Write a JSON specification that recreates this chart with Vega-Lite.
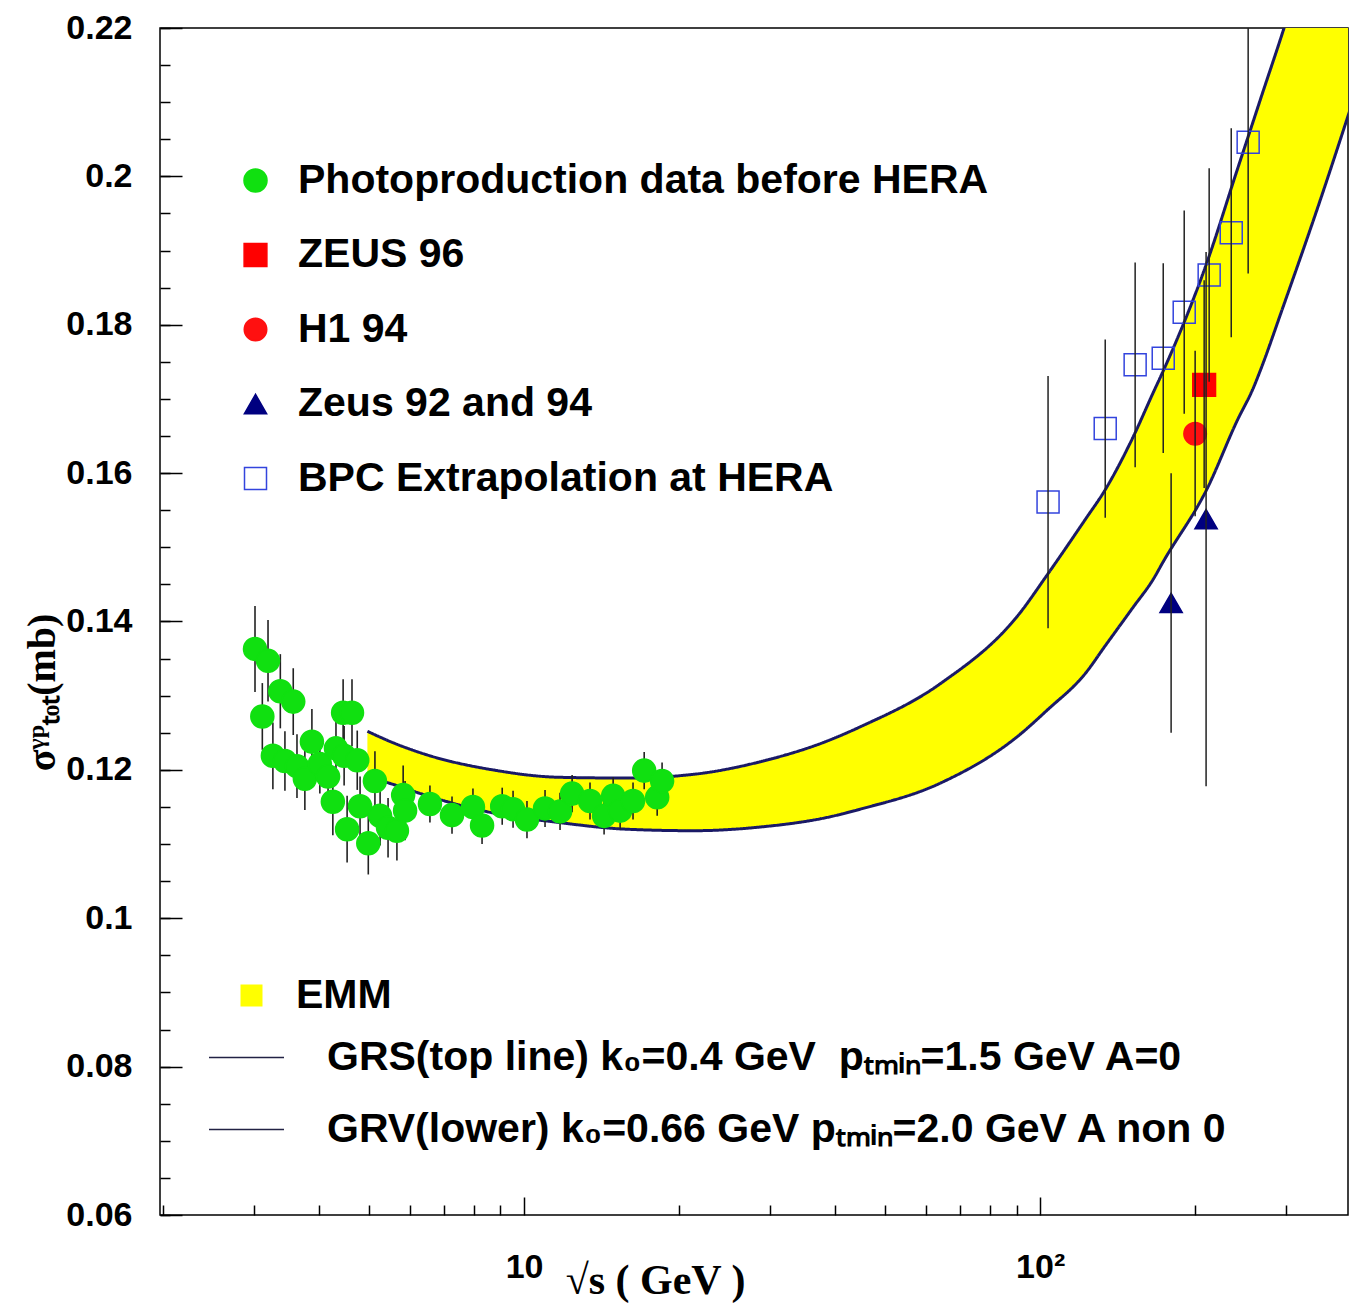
{
  "$schema": "https://vega.github.io/schema/vega-lite/v6.json",
  "width": 1188,
  "height": 1187,
  "autosize": {"type": "none"},
  "padding": {"left": 160, "top": 28, "right": 10, "bottom": 94},
  "background": "white",
  "config": {"view": {"stroke": "#000", "strokeWidth": 1.5}},
  "datasets": {
    "band": [
      {"x": 4.97, "top": 0.1252, "low": 0.1191, "model": "EMM"},
      {"x": 5.6, "top": 0.1236, "low": 0.1180, "model": "EMM"},
      {"x": 6.5, "top": 0.1220, "low": 0.1165, "model": "EMM"},
      {"x": 8.7, "top": 0.1200, "low": 0.1142, "model": "EMM"},
      {"x": 11.7, "top": 0.1190, "low": 0.1129, "model": "EMM"},
      {"x": 15.8, "top": 0.1189, "low": 0.1120, "model": "EMM"},
      {"x": 21.3, "top": 0.1194, "low": 0.1118, "model": "EMM"},
      {"x": 28.7, "top": 0.1211, "low": 0.1123, "model": "EMM"},
      {"x": 38.7, "top": 0.1239, "low": 0.1136, "model": "EMM"},
      {"x": 44.8, "top": 0.1258, "low": 0.1147, "model": "EMM"},
      {"x": 64, "top": 0.1316, "low": 0.1182, "model": "EMM"},
      {"x": 91.5, "top": 0.1412, "low": 0.1248, "model": "EMM"},
      {"x": 103, "top": 0.1462, "low": 0.1280, "model": "EMM"},
      {"x": 123, "top": 0.1540, "low": 0.1332, "model": "EMM"},
      {"x": 133, "top": 0.1575, "low": 0.1365, "model": "EMM"},
      {"x": 151, "top": 0.1647, "low": 0.1418, "model": "EMM"},
      {"x": 166, "top": 0.1710, "low": 0.1458, "model": "EMM"},
      {"x": 173, "top": 0.1737, "low": 0.1480, "model": "EMM"},
      {"x": 211, "top": 0.1886, "low": 0.1580, "model": "EMM"},
      {"x": 241, "top": 0.2009, "low": 0.1671, "model": "EMM"},
      {"x": 259, "top": 0.2075, "low": 0.1715, "model": "EMM"},
      {"x": 267, "top": 0.2103, "low": 0.1738, "model": "EMM"},
      {"x": 296, "top": 0.2197, "low": 0.1825, "model": "EMM"},
      {"x": 349, "top": 0.2360, "low": 0.1968, "model": "EMM"},
      {"x": 400, "top": 0.2500, "low": 0.2093, "model": "EMM"}
    ],
    "pts": [
      {"series": "Photoproduction data before HERA", "x": 3.01, "y": 0.1363, "lo": 0.1305, "hi": 0.1421},
      {"series": "Photoproduction data before HERA", "x": 3.19, "y": 0.1347, "lo": 0.1292, "hi": 0.1402},
      {"series": "Photoproduction data before HERA", "x": 3.11, "y": 0.1272, "lo": 0.1227, "hi": 0.1317},
      {"series": "Photoproduction data before HERA", "x": 3.37, "y": 0.1306, "lo": 0.1256, "hi": 0.1356},
      {"series": "Photoproduction data before HERA", "x": 3.57, "y": 0.1292, "lo": 0.1247, "hi": 0.1337},
      {"series": "Photoproduction data before HERA", "x": 3.26, "y": 0.1219, "lo": 0.1174, "hi": 0.1264},
      {"series": "Photoproduction data before HERA", "x": 3.44, "y": 0.1212, "lo": 0.1172, "hi": 0.1252},
      {"series": "Photoproduction data before HERA", "x": 3.63, "y": 0.1205, "lo": 0.1162, "hi": 0.1248},
      {"series": "Photoproduction data before HERA", "x": 3.76, "y": 0.1188, "lo": 0.1146, "hi": 0.1230},
      {"series": "Photoproduction data before HERA", "x": 3.88, "y": 0.1238, "lo": 0.1194, "hi": 0.1282},
      {"series": "Photoproduction data before HERA", "x": 4.02, "y": 0.1208, "lo": 0.1168, "hi": 0.1248},
      {"series": "Photoproduction data before HERA", "x": 4.17, "y": 0.1191, "lo": 0.1151, "hi": 0.1231},
      {"series": "Photoproduction data before HERA", "x": 4.26, "y": 0.1157, "lo": 0.1112, "hi": 0.1202},
      {"series": "Photoproduction data before HERA", "x": 4.32, "y": 0.1229, "lo": 0.1189, "hi": 0.1269},
      {"series": "Photoproduction data before HERA", "x": 4.48, "y": 0.1219, "lo": 0.1179, "hi": 0.1259},
      {"series": "Photoproduction data before HERA", "x": 4.46, "y": 0.1277, "lo": 0.1232, "hi": 0.1322},
      {"series": "Photoproduction data before HERA", "x": 4.64, "y": 0.1277, "lo": 0.1232, "hi": 0.1322},
      {"series": "Photoproduction data before HERA", "x": 4.54, "y": 0.1120, "lo": 0.1075, "hi": 0.1165},
      {"series": "Photoproduction data before HERA", "x": 4.75, "y": 0.1213, "lo": 0.1173, "hi": 0.1253},
      {"series": "Photoproduction data before HERA", "x": 4.81, "y": 0.1151, "lo": 0.1111, "hi": 0.1191},
      {"series": "Photoproduction data before HERA", "x": 4.99, "y": 0.1101, "lo": 0.1059, "hi": 0.1143},
      {"series": "Photoproduction data before HERA", "x": 5.14, "y": 0.1185, "lo": 0.1145, "hi": 0.1225},
      {"series": "Photoproduction data before HERA", "x": 5.26, "y": 0.1138, "lo": 0.1098, "hi": 0.1178},
      {"series": "Photoproduction data before HERA", "x": 5.45, "y": 0.1122, "lo": 0.1082, "hi": 0.1162},
      {"series": "Photoproduction data before HERA", "x": 5.67, "y": 0.1118, "lo": 0.1078, "hi": 0.1158},
      {"series": "Photoproduction data before HERA", "x": 5.83, "y": 0.1166, "lo": 0.1126, "hi": 0.1206},
      {"series": "Photoproduction data before HERA", "x": 5.88, "y": 0.1145, "lo": 0.1105, "hi": 0.1185},
      {"series": "Photoproduction data before HERA", "x": 6.57, "y": 0.1154, "lo": 0.1129, "hi": 0.1179},
      {"series": "Photoproduction data before HERA", "x": 7.25, "y": 0.1139, "lo": 0.1114, "hi": 0.1164},
      {"series": "Photoproduction data before HERA", "x": 7.96, "y": 0.1150, "lo": 0.1125, "hi": 0.1175},
      {"series": "Photoproduction data before HERA", "x": 8.29, "y": 0.1125, "lo": 0.1100, "hi": 0.1150},
      {"series": "Photoproduction data before HERA", "x": 9.07, "y": 0.1151, "lo": 0.1126, "hi": 0.1176},
      {"series": "Photoproduction data before HERA", "x": 9.52, "y": 0.1147, "lo": 0.1122, "hi": 0.1172},
      {"series": "Photoproduction data before HERA", "x": 10.13, "y": 0.1133, "lo": 0.1108, "hi": 0.1158},
      {"series": "Photoproduction data before HERA", "x": 10.98, "y": 0.1148, "lo": 0.1123, "hi": 0.1173},
      {"series": "Photoproduction data before HERA", "x": 11.74, "y": 0.1144, "lo": 0.1119, "hi": 0.1169},
      {"series": "Photoproduction data before HERA", "x": 12.39, "y": 0.1168, "lo": 0.1143, "hi": 0.1193},
      {"series": "Photoproduction data before HERA", "x": 13.42, "y": 0.1158, "lo": 0.1133, "hi": 0.1183},
      {"series": "Photoproduction data before HERA", "x": 14.29, "y": 0.1138, "lo": 0.1113, "hi": 0.1163},
      {"series": "Photoproduction data before HERA", "x": 14.88, "y": 0.1165, "lo": 0.1140, "hi": 0.1190},
      {"series": "Photoproduction data before HERA", "x": 15.35, "y": 0.1145, "lo": 0.1120, "hi": 0.1170},
      {"series": "Photoproduction data before HERA", "x": 16.26, "y": 0.1158, "lo": 0.1133, "hi": 0.1183},
      {"series": "Photoproduction data before HERA", "x": 17.09, "y": 0.1199, "lo": 0.1174, "hi": 0.1224},
      {"series": "Photoproduction data before HERA", "x": 18.11, "y": 0.1163, "lo": 0.1138, "hi": 0.1188},
      {"series": "Photoproduction data before HERA", "x": 18.51, "y": 0.1185, "lo": 0.1160, "hi": 0.1210},
      {"series": "ZEUS 96", "x": 207.9, "y": 0.1719, "lo": 0.1580, "hi": 0.1860},
      {"series": "H1 94", "x": 199.7, "y": 0.1653, "lo": 0.1542, "hi": 0.1765},
      {"series": "Zeus 92 and 94", "x": 179.4, "y": 0.1425, "lo": 0.1250, "hi": 0.1600},
      {"series": "Zeus 92 and 94", "x": 209.7, "y": 0.1538, "lo": 0.1178, "hi": 0.1898},
      {"series": "BPC Extrapolation at HERA", "x": 103.6, "y": 0.1561, "lo": 0.1391, "hi": 0.1731},
      {"series": "BPC Extrapolation at HERA", "x": 133.7, "y": 0.1660, "lo": 0.1540, "hi": 0.1780},
      {"series": "BPC Extrapolation at HERA", "x": 152.8, "y": 0.1746, "lo": 0.1608, "hi": 0.1884},
      {"series": "BPC Extrapolation at HERA", "x": 173.2, "y": 0.1755, "lo": 0.1627, "hi": 0.1883},
      {"series": "BPC Extrapolation at HERA", "x": 190.2, "y": 0.1817, "lo": 0.1680, "hi": 0.1954},
      {"series": "BPC Extrapolation at HERA", "x": 212.6, "y": 0.1867, "lo": 0.1723, "hi": 0.2011},
      {"series": "BPC Extrapolation at HERA", "x": 234.6, "y": 0.1924, "lo": 0.1783, "hi": 0.2065},
      {"series": "BPC Extrapolation at HERA", "x": 253.0, "y": 0.2046, "lo": 0.1869, "hi": 0.2223}
    ]
  },
  "resolve": {"axis": {"x": "independent", "y": "independent"}},
  "layer": [
    {
      "data": {"name": "band"},
      "mark": {"type": "area", "clip": true, "opacity": 1, "interpolate": "monotone"},
      "encoding": {
        "x": {"field": "x", "type": "quantitative", "scale": {"type": "log", "domain": [1.97, 395], "nice": false},
          "axis": {"orient": "bottom", "values": [2, 3, 4, 5, 6, 7, 8, 9, 20, 30, 40, 50, 60, 70, 80, 90, 200, 300], "labels": false, "tickSize": -10, "tickWidth": 1.5, "tickColor": "#000", "domain": false, "grid": false, "title": null}},
        "y": {"field": "top", "type": "quantitative", "scale": {"domain": [0.06, 0.22], "nice": false, "zero": false},
          "axis": {"orient": "left", "values": [0.06, 0.065, 0.07, 0.075, 0.08, 0.085, 0.09, 0.095, 0.1, 0.105, 0.11, 0.115, 0.12, 0.125, 0.13, 0.135, 0.14, 0.145, 0.15, 0.155, 0.16, 0.165, 0.17, 0.175, 0.18, 0.185, 0.19, 0.195, 0.2, 0.205, 0.21, 0.215, 0.22], "labels": false, "tickSize": -10, "tickWidth": 1.5, "tickColor": "#000", "domain": false, "grid": false, "title": null}},
        "y2": {"field": "low"},
        "color": {"field": "model", "type": "nominal",
          "scale": {"domain": ["EMM"], "range": ["#ffff00"]},
          "legend": {"orient": "none", "legendX": 71, "legendY": 947, "title": null, "padding": 0,
            "labelFont": "Liberation Sans", "labelFontWeight": "bold", "labelFontSize": 41, "labelColor": "#000", "labelLimit": 0,
            "labelOffset": 24, "symbolType": "square", "symbolSize": 484, "symbolOpacity": 1, "symbolStrokeWidth": 0}}
      }
    },
    {
      "data": {"name": "band"},
      "transform": [{"fold": ["top", "low"], "as": ["curve", "val"]}],
      "mark": {"type": "line", "clip": true, "stroke": "#1a1a66", "strokeWidth": 3, "interpolate": "monotone"},
      "encoding": {
        "x": {"field": "x", "type": "quantitative", "scale": {"type": "log", "domain": [1.97, 395], "nice": false},
          "axis": {"orient": "bottom", "values": [10, 100], "tickSize": -18, "tickWidth": 1.5, "tickColor": "#000", "domain": false, "grid": false,
            "labelExpr": "datum.value == 10 ? '10' : '10²'", "labelFont": "Liberation Sans", "labelFontWeight": "bold", "labelFontSize": 34, "labelColor": "#000", "labelPadding": 53, "labelFlush": false,
            "title": "√s ( GeV )", "titleFont": "Liberation Serif", "titleFontWeight": "bold", "titleFontSize": 42, "titleColor": "#000", "titleX": 495, "titleY": 78, "titleAlign": "center", "titleBaseline": "alphabetic"}},
        "y": {"field": "val", "type": "quantitative", "scale": {"domain": [0.06, 0.22], "nice": false, "zero": false},
          "axis": {"orient": "left", "values": [0.06, 0.08, 0.1, 0.12, 0.14, 0.16, 0.18, 0.2, 0.22], "format": ".2~f", "tickSize": -22, "tickWidth": 1.5, "tickColor": "#000", "domain": false, "grid": false,
            "labelFont": "Liberation Sans", "labelFontWeight": "bold", "labelFontSize": 34, "labelColor": "#000", "labelPadding": 50, "labelFlush": false, "labelOverlap": false,
            "title": "σᵞᵖₜₒₜ(mb)", "titleFont": "Liberation Serif", "titleFontWeight": "bold", "titleFontSize": 40, "titleColor": "#000", "titleX": -118, "titleY": 664, "titleAngle": -90, "titleAlign": "center", "titleBaseline": "middle"}},
        "strokeDash": {"field": "curve", "type": "nominal",
          "scale": {"domain": ["top", "low"], "range": [[1, 0], [1, 0]]},
          "legend": {"orient": "none", "legendX": 48, "legendY": 991, "title": null, "padding": 0,
            "labelExpr": "datum.value == 'top' ? 'GRS(top line) k₀=0.4 GeV\u00a0\u00a0pₜₘᵢₙ=1.5 GeV A=0' : 'GRV(lower) k₀=0.66 GeV pₜₘᵢₙ=2.0 GeV A non 0'",
            "labelFont": "Liberation Sans", "labelFontWeight": "bold", "labelFontSize": 41, "labelColor": "#000", "labelLimit": 0,
            "labelOffset": 42, "rowPadding": 13, "symbolType": "stroke", "symbolSize": 5625, "symbolStrokeColor": "#222244", "symbolStrokeWidth": 1.5, "symbolOpacity": 1}}
      }
    },
    {
      "data": {"name": "pts"},
      "transform": [{"filter": "datum.series == 'Photoproduction data before HERA'"}],
      "mark": {"type": "rule", "clip": true, "stroke": "#222", "strokeWidth": 1.6},
      "encoding": {
        "x": {"field": "x", "type": "quantitative", "scale": {"type": "log", "domain": [1.97, 395], "nice": false}, "axis": null},
        "y": {"field": "lo", "type": "quantitative", "scale": {"domain": [0.06, 0.22], "nice": false, "zero": false}, "axis": null},
        "y2": {"field": "hi"}
      }
    },
    {
      "data": {"name": "pts"},
      "mark": {"type": "point", "filled": true, "opacity": 1, "strokeWidth": 1.5, "clip": true},
      "encoding": {
        "x": {"field": "x", "type": "quantitative", "scale": {"type": "log", "domain": [1.97, 395], "nice": false}, "axis": null},
        "y": {"field": "y", "type": "quantitative", "scale": {"domain": [0.06, 0.22], "nice": false, "zero": false}, "axis": null},
        "shape": {"field": "series", "type": "nominal",
          "scale": {"domain": ["Photoproduction data before HERA", "ZEUS 96", "H1 94", "Zeus 92 and 94", "BPC Extrapolation at HERA"], "range": ["circle", "square", "circle", "triangle-up", "square"]},
          "legend": {"orient": "none", "legendX": 75, "legendY": 132, "title": null, "padding": 0, "labelFont": "Liberation Sans", "labelFontWeight": "bold", "labelFontSize": 41, "labelColor": "#000", "labelLimit": 0, "labelOffset": 22, "rowPadding": 32.5}},
        "fill": {"field": "series", "type": "nominal",
          "scale": {"domain": ["Photoproduction data before HERA", "ZEUS 96", "H1 94", "Zeus 92 and 94", "BPC Extrapolation at HERA"], "range": ["#10e010", "#ff0000", "#ff1010", "#000080", "transparent"]},
          "legend": {"orient": "none", "legendX": 75, "legendY": 132, "title": null, "padding": 0, "labelFont": "Liberation Sans", "labelFontWeight": "bold", "labelFontSize": 41, "labelColor": "#000", "labelLimit": 0, "labelOffset": 22, "rowPadding": 32.5}},
        "stroke": {"field": "series", "type": "nominal",
          "scale": {"domain": ["Photoproduction data before HERA", "ZEUS 96", "H1 94", "Zeus 92 and 94", "BPC Extrapolation at HERA"], "range": ["#10e010", "#ff0000", "#ff1010", "#000080", "#3344dd"]},
          "legend": {"orient": "none", "legendX": 75, "legendY": 132, "title": null, "padding": 0, "labelFont": "Liberation Sans", "labelFontWeight": "bold", "labelFontSize": 41, "labelColor": "#000", "labelLimit": 0, "labelOffset": 22, "rowPadding": 32.5}},
        "size": {"field": "series", "type": "nominal",
          "scale": {"domain": ["Photoproduction data before HERA", "ZEUS 96", "H1 94", "Zeus 92 and 94", "BPC Extrapolation at HERA"], "range": [530, 484, 400, 540, 240]},
          "legend": {"orient": "none", "legendX": 75, "legendY": 132, "title": null, "padding": 0, "labelFont": "Liberation Sans", "labelFontWeight": "bold", "labelFontSize": 41, "labelColor": "#000", "labelLimit": 0, "labelOffset": 22, "rowPadding": 32.5}}
      }
    },
    {
      "data": {"name": "pts"},
      "transform": [{"filter": "datum.series != 'Photoproduction data before HERA'"}],
      "mark": {"type": "rule", "clip": true, "stroke": "#222", "strokeWidth": 1.5},
      "encoding": {
        "x": {"field": "x", "type": "quantitative", "scale": {"type": "log", "domain": [1.97, 395], "nice": false}, "axis": null},
        "y": {"field": "lo", "type": "quantitative", "scale": {"domain": [0.06, 0.22], "nice": false, "zero": false}, "axis": null},
        "y2": {"field": "hi"}
      }
    }
  ]
}
